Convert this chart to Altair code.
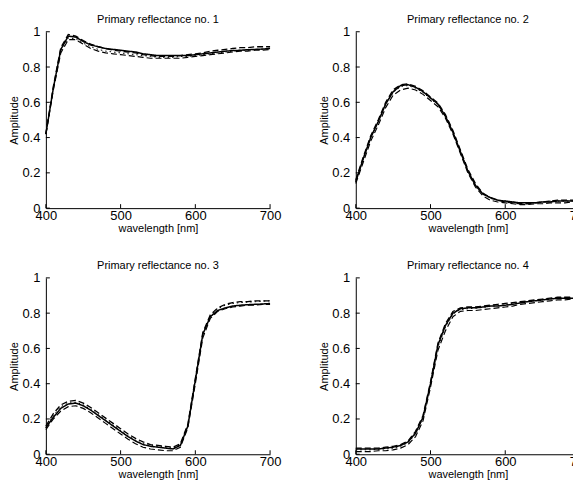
import altair as alt
import pandas as pd

wavelengths = list(range(400, 701, 10))

titles = ["Primary reflectance no. 1", "Primary reflectance no. 2",
          "Primary reflectance no. 3", "Primary reflectance no. 4"]
series_names = ["solid", "dash_upper", "dash_lower", "dotted"]

p1_solid = [0.42, 0.68, 0.90, 0.975, 0.97, 0.945, 0.925, 0.915, 0.905, 0.90, 0.895, 0.89, 0.885, 0.875, 0.87, 0.865,
            0.865, 0.865, 0.865, 0.865, 0.87, 0.875, 0.88, 0.885, 0.89, 0.893, 0.895, 0.898, 0.90, 0.902, 0.905]
p1_upper = [0.42, 0.69, 0.91, 0.985, 0.975, 0.95, 0.93, 0.915, 0.905, 0.895, 0.89, 0.885, 0.88, 0.87, 0.865, 0.86,
            0.86, 0.86, 0.865, 0.87, 0.875, 0.88, 0.89, 0.895, 0.90, 0.905, 0.91, 0.91, 0.915, 0.915, 0.915]
p1_lower = [0.42, 0.67, 0.88, 0.955, 0.955, 0.93, 0.905, 0.89, 0.88, 0.875, 0.87, 0.865, 0.86, 0.855, 0.85, 0.85,
            0.85, 0.85, 0.85, 0.855, 0.86, 0.865, 0.87, 0.875, 0.88, 0.885, 0.89, 0.89, 0.895, 0.895, 0.90]
p1_dot = [0.42, 0.68, 0.89, 0.965, 0.96, 0.935, 0.915, 0.90, 0.89, 0.885, 0.88, 0.875, 0.87, 0.865, 0.86, 0.855,
          0.855, 0.855, 0.86, 0.86, 0.865, 0.87, 0.875, 0.88, 0.885, 0.89, 0.895, 0.895, 0.90, 0.90, 0.905]

p2_solid = [0.15, 0.28, 0.40, 0.49, 0.59, 0.66, 0.695, 0.70, 0.685, 0.66, 0.625, 0.59, 0.52, 0.43, 0.32, 0.21,
            0.13, 0.08, 0.06, 0.045, 0.04, 0.035, 0.03, 0.03, 0.03, 0.035, 0.035, 0.04, 0.04, 0.04, 0.04]
p2_upper = [0.16, 0.29, 0.41, 0.50, 0.60, 0.67, 0.70, 0.705, 0.69, 0.665, 0.63, 0.595, 0.53, 0.44, 0.33, 0.22,
            0.14, 0.085, 0.06, 0.045, 0.035, 0.03, 0.025, 0.025, 0.03, 0.035, 0.04, 0.045, 0.045, 0.045, 0.045]
p2_lower = [0.14, 0.26, 0.38, 0.47, 0.57, 0.64, 0.67, 0.68, 0.67, 0.645, 0.61, 0.575, 0.51, 0.42, 0.31, 0.20,
            0.12, 0.07, 0.045, 0.035, 0.03, 0.025, 0.02, 0.02, 0.025, 0.025, 0.03, 0.03, 0.03, 0.035, 0.035]
p2_dot = [0.15, 0.28, 0.40, 0.49, 0.59, 0.655, 0.69, 0.695, 0.68, 0.655, 0.62, 0.585, 0.52, 0.43, 0.32, 0.21,
          0.13, 0.08, 0.055, 0.045, 0.04, 0.035, 0.03, 0.03, 0.03, 0.035, 0.04, 0.04, 0.04, 0.04, 0.04]

p3_solid = [0.15, 0.21, 0.26, 0.285, 0.29, 0.275, 0.25, 0.22, 0.19, 0.16, 0.13, 0.10, 0.075, 0.055, 0.045, 0.04,
            0.035, 0.03, 0.05, 0.16, 0.42, 0.68, 0.78, 0.815, 0.83, 0.84, 0.845, 0.848, 0.85, 0.852, 0.855]
p3_upper = [0.16, 0.23, 0.28, 0.30, 0.305, 0.29, 0.265, 0.235, 0.205, 0.175, 0.145, 0.115, 0.09, 0.07, 0.055, 0.05,
            0.045, 0.04, 0.06, 0.17, 0.43, 0.69, 0.79, 0.83, 0.85, 0.86, 0.865, 0.865, 0.87, 0.87, 0.87]
p3_lower = [0.14, 0.20, 0.245, 0.27, 0.275, 0.26, 0.235, 0.205, 0.175, 0.145, 0.115, 0.085, 0.06, 0.04, 0.03, 0.025,
            0.02, 0.02, 0.04, 0.15, 0.40, 0.66, 0.77, 0.81, 0.825, 0.835, 0.84, 0.845, 0.845, 0.85, 0.85]
p3_dot = [0.15, 0.22, 0.27, 0.29, 0.295, 0.28, 0.255, 0.225, 0.195, 0.165, 0.135, 0.105, 0.08, 0.06, 0.05, 0.045,
          0.04, 0.035, 0.055, 0.165, 0.42, 0.68, 0.785, 0.825, 0.845, 0.855, 0.86, 0.862, 0.865, 0.868, 0.87]

p4_solid = [0.03, 0.03, 0.03, 0.03, 0.035, 0.04, 0.05, 0.07, 0.12, 0.21, 0.40, 0.62, 0.73, 0.80, 0.825, 0.83,
            0.83, 0.835, 0.84, 0.84, 0.845, 0.85, 0.858, 0.865, 0.87, 0.875, 0.88, 0.885, 0.885, 0.885, 0.885]
p4_upper = [0.035, 0.035, 0.035, 0.035, 0.04, 0.045, 0.055, 0.075, 0.13, 0.22, 0.41, 0.63, 0.74, 0.81, 0.83, 0.835,
            0.835, 0.84, 0.845, 0.85, 0.855, 0.86, 0.865, 0.87, 0.875, 0.88, 0.885, 0.89, 0.89, 0.89, 0.89]
p4_lower = [0.015, 0.015, 0.015, 0.02, 0.02, 0.025, 0.035, 0.055, 0.10, 0.19, 0.38, 0.59, 0.70, 0.78, 0.81, 0.815,
            0.815, 0.82, 0.825, 0.83, 0.835, 0.84, 0.85, 0.855, 0.86, 0.865, 0.87, 0.875, 0.875, 0.88, 0.88]
p4_dot = [0.025, 0.025, 0.025, 0.028, 0.03, 0.035, 0.045, 0.065, 0.115, 0.205, 0.395, 0.61, 0.72, 0.795, 0.82, 0.825,
          0.828, 0.832, 0.838, 0.842, 0.848, 0.855, 0.862, 0.868, 0.873, 0.878, 0.883, 0.886, 0.887, 0.888, 0.888]

panels = [
    [p1_solid, p1_upper, p1_lower, p1_dot],
    [p2_solid, p2_upper, p2_lower, p2_dot],
    [p3_solid, p3_upper, p3_lower, p3_dot],
    [p4_solid, p4_upper, p4_lower, p4_dot],
]

y_ticks = [0, 0.2, 0.4, 0.6, 0.8, 1]
x_ticks = [400, 500, 600, 700]

W, H = 225, 177
FONT = "Liberation Sans"

xscale = alt.Scale(domain=[400, 700], nice=False, zero=False)
yscale = alt.Scale(domain=[0, 1], nice=False)
xaxis = alt.Axis(values=x_ticks, title="wavelength [nm]", format="d", labelPadding=1,
                 titlePadding=0, labelFlush=False)
yaxis = alt.Axis(values=y_ticks, title="Amplitude", format="~g", labelPadding=6, titlePadding=2)


def make_panel(title, series):
    rows = []
    for name, vals in zip(series_names, series):
        for w, v in zip(wavelengths, vals):
            rows.append({"wl": w, "value": v, "series": name})
    df = pd.DataFrame(rows)

    lines = alt.Chart(df).mark_line(color="black").encode(
        x=alt.X("wl:Q", scale=xscale, axis=xaxis, title="wavelength [nm]"),
        y=alt.Y("value:Q", scale=yscale, axis=yaxis, title="Amplitude"),
        strokeDash=alt.StrokeDash("series:N", scale=alt.Scale(
            domain=series_names, range=[[1, 0], [6, 3], [6, 3], [1.5, 3]]), legend=None),
        strokeWidth=alt.StrokeWidth("series:N", scale=alt.Scale(
            domain=series_names, range=[1.5, 1, 1, 1.2]), legend=None),
        detail="series:N",
    )

    ydf = pd.DataFrame({"value": y_ticks})
    yt = alt.Chart(ydf).mark_rule(color="black", strokeWidth=1).encode(
        y=alt.Y("value:Q", scale=yscale, axis=yaxis, title="Amplitude"),
        x=alt.value(0), x2=alt.value(4),
    )
    xdf = pd.DataFrame({"wl": x_ticks})
    xt = alt.Chart(xdf).mark_rule(color="black", strokeWidth=1).encode(
        x=alt.X("wl:Q", scale=xscale, axis=xaxis, title="wavelength [nm]"),
        y=alt.value(H), y2=alt.value(H - 4),
    )
    return alt.layer(lines, yt, xt).properties(
        width=W, height=H,
        title=alt.TitleParams(title, fontSize=11, fontWeight="normal", font=FONT, offset=1, color="black"),
    )


charts = [make_panel(t, s) for t, s in zip(titles, panels)]

chart = alt.vconcat(
    alt.hconcat(charts[0], charts[1], spacing=37),
    alt.hconcat(charts[2], charts[3], spacing=37),
    spacing=27,
).properties(
    padding={"left": 0, "top": 5, "right": -18, "bottom": 0},
    background="white",
).configure_view(stroke=None).configure_axis(
    grid=False, ticks=False, domainColor="black", domainWidth=1,
    labelFont=FONT, labelFontSize=13, labelColor="black",
    titleFont=FONT, titleFontSize=11, titleFontWeight="normal", titleColor="black",
)

chart.save("out.html", embed_options={"renderer": "svg", "actions": False})
